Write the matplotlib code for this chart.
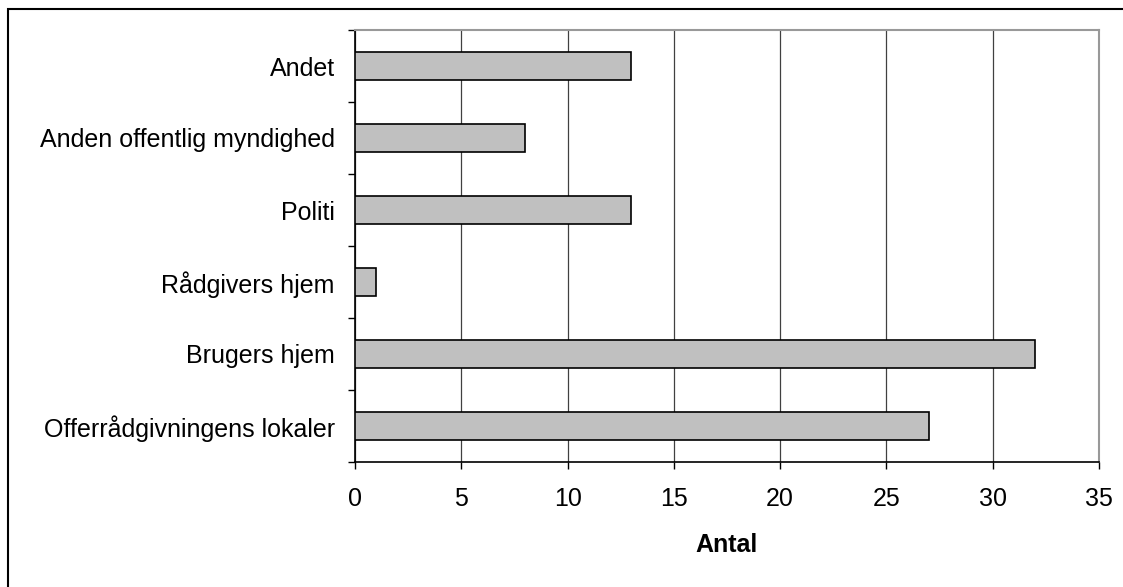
import matplotlib.pyplot as plt
from matplotlib.patches import Rectangle

# Categories listed bottom to top
categories = ["Offerrådgivningens lokaler", "Brugers hjem", "Rådgivers hjem",
              "Politi", "Anden offentlig myndighed", "Andet"]
values = [27, 32, 1, 13, 8, 13]
x_ticks = [0, 5, 10, 15, 20, 25, 30, 35]

plt.rcParams['font.family'] = ['Liberation Sans', 'DejaVu Sans']

fig = plt.figure(figsize=(11.23, 5.87), dpi=100)
ax = fig.add_axes([355 / 1123, 1 - 462 / 587, (1099 - 355) / 1123, (462 - 30) / 587])

# outer chart border (only top and left edges fall inside the image)
fig.patches.append(Rectangle((8 / 1123, -0.1), 1.2, 1 - 9 / 587 + 0.1,
                             transform=fig.transFigure, fill=False,
                             edgecolor='black', linewidth=1.5, zorder=0))

pos = list(range(len(categories)))
ax.barh(pos, values, height=0.4, color='#C0C0C0', edgecolor='black',
        linewidth=1.2, zorder=3)

fs = 18
ax.set_xlim(0, 35)
ax.set_ylim(-0.5, len(categories) - 0.5)
ax.set_xticks(x_ticks)
ax.set_xticklabels([str(t) for t in x_ticks], fontsize=fs)
ax.set_yticks(pos)
ax.set_yticklabels(categories, fontsize=fs)
ax.tick_params(axis='y', length=0, pad=14.5)
ax.set_yticks([p - 0.5 for p in pos] + [len(categories) - 0.5], minor=True)
ax.tick_params(axis='y', which='minor', length=5, width=1, direction='out')
ax.tick_params(axis='x', length=5, width=1, direction='out', pad=13)

ax.xaxis.grid(True, color='#404040', linewidth=0.9, zorder=0)
ax.set_axisbelow(True)

for side in ['top', 'right']:
    ax.spines[side].set_color('#999999')
    ax.spines[side].set_linewidth(1.5)
for side in ['left', 'bottom']:
    ax.spines[side].set_color('black')
    ax.spines[side].set_linewidth(1.2)

ax.set_xlabel("Antal", fontsize=fs, fontweight='bold', labelpad=16)

fig.savefig("out.png", dpi=100)
